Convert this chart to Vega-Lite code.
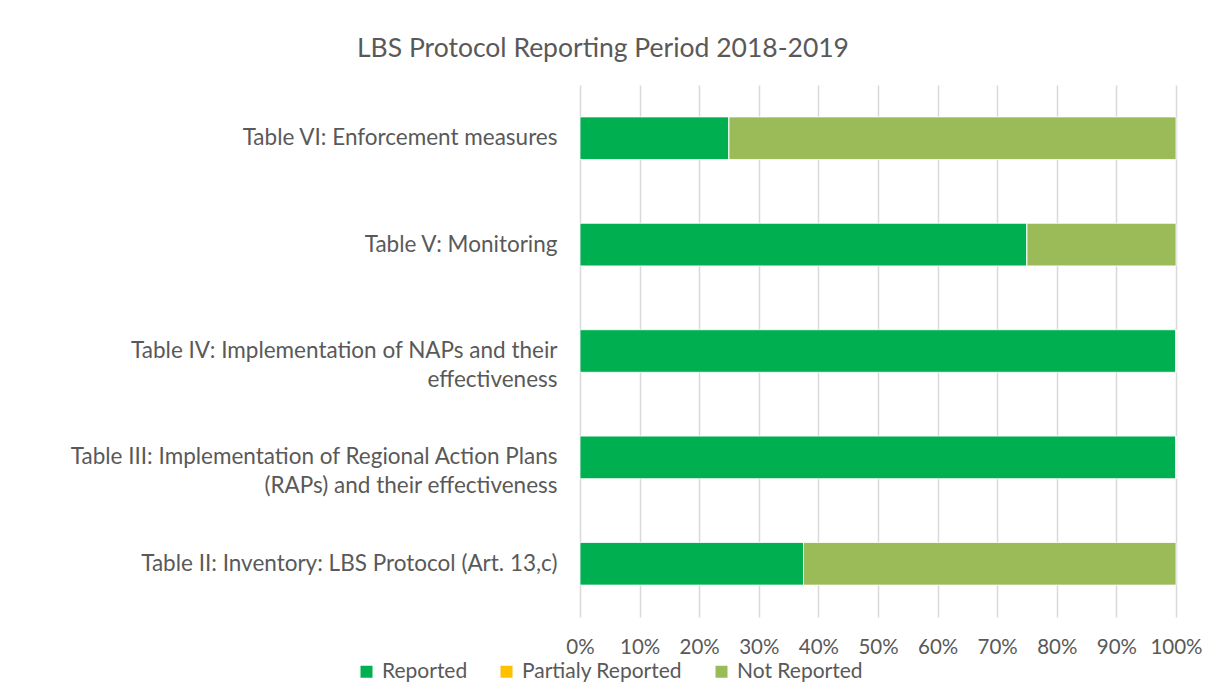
{
  "$schema": "https://vega.github.io/schema/vega-lite/v6.json",
  "width": 596,
  "height": 532,
  "autosize": {"type": "none"},
  "padding": {"left": 580, "top": 85, "right": 29, "bottom": 82},
  "background": "white",
  "config": {
    "font": "Lato",
    "view": {"stroke": null}
  },
  "title": {
    "text": "LBS Protocol Reporting Period 2018-2019",
    "font": "Lato",
    "fontSize": 26.5,
    "fontWeight": "normal",
    "color": "#595959",
    "anchor": "middle",
    "dx": -275,
    "offset": 23
  },
  "data": {
    "values": [
      {"table": "Table VI: Enforcement measures", "status": "Reported", "share": 25},
      {"table": "Table VI: Enforcement measures", "status": "Partialy Reported", "share": 0},
      {"table": "Table VI: Enforcement measures", "status": "Not Reported", "share": 75},
      {"table": "Table V: Monitoring", "status": "Reported", "share": 75},
      {"table": "Table V: Monitoring", "status": "Partialy Reported", "share": 0},
      {"table": "Table V: Monitoring", "status": "Not Reported", "share": 25},
      {"table": "Table IV: Implementation of NAPs and their\neffectiveness", "status": "Reported", "share": 100},
      {"table": "Table IV: Implementation of NAPs and their\neffectiveness", "status": "Partialy Reported", "share": 0},
      {"table": "Table IV: Implementation of NAPs and their\neffectiveness", "status": "Not Reported", "share": 0},
      {"table": "Table III: Implementation of Regional Action Plans\n(RAPs) and their effectiveness", "status": "Reported", "share": 100},
      {"table": "Table III: Implementation of Regional Action Plans\n(RAPs) and their effectiveness", "status": "Partialy Reported", "share": 0},
      {"table": "Table III: Implementation of Regional Action Plans\n(RAPs) and their effectiveness", "status": "Not Reported", "share": 0},
      {"table": "Table II: Inventory: LBS Protocol  (Art. 13,c)", "status": "Reported", "share": 37.5},
      {"table": "Table II: Inventory: LBS Protocol  (Art. 13,c)", "status": "Partialy Reported", "share": 0},
      {"table": "Table II: Inventory: LBS Protocol  (Art. 13,c)", "status": "Not Reported", "share": 62.5}
    ]
  },
  "mark": {"type": "bar", "stroke": "white", "strokeWidth": 0.8},
  "encoding": {
    "y": {
      "field": "table",
      "type": "nominal",
      "sort": null,
      "scale": {"paddingInner": 0.6, "paddingOuter": 0.3},
      "axis": {
        "title": null,
        "domain": false,
        "ticks": false,
        "tickSize": 0,
        "labelPadding": 23,
        "labelFontSize": 22.5,
        "labelColor": "#595959",
        "labelLineHeight": 29,
        "labelLimit": 600,
        "labelExpr": "split(datum.label, '\\n')"
      }
    },
    "x": {
      "field": "share",
      "type": "quantitative",
      "stack": "normalize",
      "scale": {"domain": [0, 1], "nice": false},
      "axis": {
        "title": null,
        "format": ".0%",
        "values": [0, 0.1, 0.2, 0.3, 0.4, 0.5, 0.6, 0.7, 0.8, 0.9, 1],
        "domain": false,
        "ticks": false,
        "tickSize": 0,
        "grid": true,
        "gridColor": "#D9D9D9",
        "gridWidth": 1.5,
        "labelPadding": 20,
        "labelFontSize": 20.5,
        "labelColor": "#595959",
        "labelFlush": false,
        "labelOverlap": false
      }
    },
    "order": {"field": "status", "sort": "descending"},
    "color": {
      "field": "status",
      "type": "nominal",
      "sort": ["Reported", "Partialy Reported", "Not Reported"],
      "scale": {
        "domain": ["Reported", "Partialy Reported", "Not Reported"],
        "range": ["#00B050", "#FFC000", "#9BBB59"]
      },
      "legend": {
        "title": null,
        "orient": "none",
        "direction": "horizontal",
        "legendX": -224,
        "legendY": 576,
        "padding": 0,
        "symbolType": "square",
        "symbolSize": 144,
        "symbolStrokeWidth": 0,
        "labelFontSize": 21,
        "labelColor": "#595959",
        "labelOffset": 5,
        "columnPadding": 28,
        "labelLimit": 300
      }
    }
  }
}
